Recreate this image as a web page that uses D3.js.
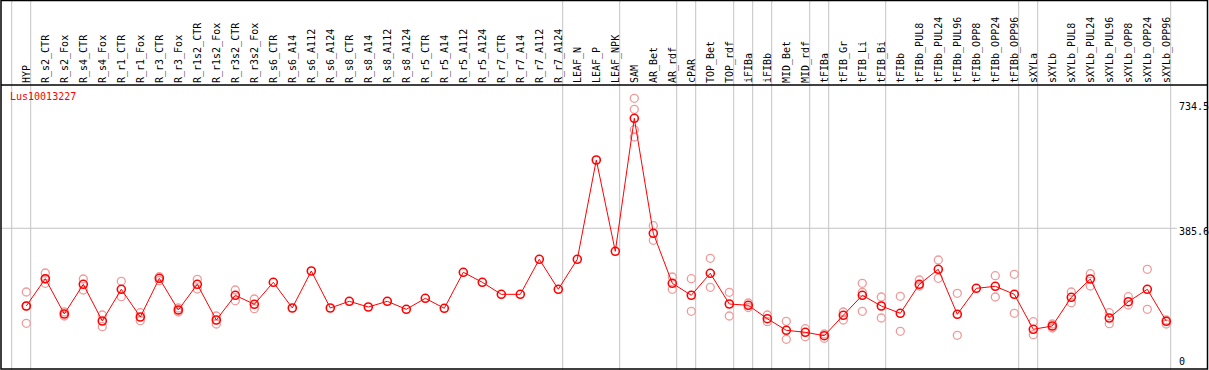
<!DOCTYPE html>
<html>
<head>
<meta charset="utf-8">
<script src="https://cdn.jsdelivr.net/npm/d3@7"></script>
<style>
  body { margin: 0; background: #fff; }
  text { font-family: "DejaVu Sans Mono", monospace; font-size: 10px; }
</style>
</head>
<body>
<div id="chart"></div>
<script>
// sample names along the top
var samples = ["HYP", "R_s2_CTR", "R_s2_Fox", "R_s4_CTR", "R_s4_Fox", "R_r1_CTR", "R_r1_Fox",
    "R_r3_CTR", "R_r3_Fox", "R_r1s2_CTR", "R_r1s2_Fox", "R_r3s2_CTR", "R_r3s2_Fox",
    "R_s6_CTR", "R_s6_A14", "R_s6_A112", "R_s6_A124", "R_s8_CTR", "R_s8_A14", "R_s8_A112", "R_s8_A124",
    "R_r5_CTR", "R_r5_A14", "R_r5_A112", "R_r5_A124", "R_r7_CTR", "R_r7_A14", "R_r7_A112", "R_r7_A124",
    "LEAF_N", "LEAF_P", "LEAF_NPK", "SAM", "AR_Bet", "AR_rdf", "cPAR", "TOP_Bet", "TOP_rdf",
    "iFIBa", "iFIBb", "MID_Bet", "MID_rdf", "tFIBa", "tFIB_Gr", "tFIB_Li", "tFIB_Bi", "tFIBb",
    "tFIBb_PUL8", "tFIBb_PUL24", "tFIBb_PUL96", "tFIBb_OPP8", "tFIBb_OPP24", "tFIBb_OPP96",
    "sXYLa", "sXYLb", "sXYLb_PUL8", "sXYLb_PUL24", "sXYLb_PUL96", "sXYLb_OPP8", "sXYLb_OPP24", "sXYLb_OPP96"];

// mean expression per sample
var means = [170.3, 245.9, 148.2, 230.4, 128.8, 216.6, 139.9, 247.0, 159.2, 230.4, 131.6, 200.0, 175.0,
    236.0, 164.8, 267.3, 164.8, 183.3, 167.6, 183.3, 161.2, 191.6, 164.0, 263.7, 236.0, 202.7, 202.7, 299.7, 216.6,
    299.7, 574.7, 321.8, 690.2, 371.7, 233.2, 200.0, 260.9, 175.9,
    172.3, 135.2, 103.0, 97.5, 88.1, 144.6, 200.0, 170.3, 150.1,
    230.4, 272.0, 147.3, 219.3, 224.9, 202.7,
    105.8, 114.9, 194.4, 245.1, 137.1, 182.2, 216.6, 128.0];

// single replicates (empty where only the mean shows)
var replicates = [
    [209.1, 170.3, 122.4], [261.7, 245.1, 233.2], [153.7, 142.6], [245.1, 214.6], [145.4, 113.0],
    [238.7, 196.1], [151.8, 129.6], [251.5, 240.4], [164.8, 153.7], [244.3, 217.4], [142.6, 120.5],
    [214.6, 185.0], [189.7, 162.8],
    [], [], [], [], [], [], [], [], [], [], [], [], [], [], [], [],
    [], [], [],
    [745.5, 715.1, 658.6, 638.4], [392.7, 352.3], [250.6, 216.6], [245.9, 155.6], [302.4, 222.1], [208.3, 142.6],
    [178.6, 166.2], [145.4, 126.8], [128.0, 78.1], [107.5, 85.3], [92.8, 80.9], [153.7, 131.6],
    [233.2, 208.3, 155.6], [195.2, 137.1], [197.2, 100.3],
    [242.3, 225.7], [297.7, 247.0], [205.5, 89.2], [], [254.2, 195.2], [258.1, 150.1],
    [126.8, 90.8], [120.5, 109.4], [209.1, 179.5], [259.8, 225.7], [151.8, 121.3], [196.1, 173.1],
    [272.0, 161.2], [131.6, 120.5]];

// samples that start a new group (grey separators)
var groupStarts = ["HYP", "R_s2_CTR", "LEAF_N", "SAM", "cPAR", "TOP_Bet", "iFIBa", "iFIBb", "MID_Bet",
    "tFIBa", "tFIB_Gr", "tFIBb", "sXYLa", "sXYLb"];

var yTicks = [0, 385.6, 734.5];
var geneName = "Lus10013227";

var W = 1209, H = 370;
var headerH = 85;

var svg = d3.select("#chart").append("svg")
    .attr("width", W)
    .attr("height", H);

var x = d3.scalePoint()
    .domain(samples)
    .range([26.3, 1166.3]);

var y = d3.scaleLinear()
    .domain([0, 734.5])
    .range([367.5, 102.3]);

var sepOffset = 14.6;
var step = x.step();

// vertical separators
var sepX = groupStarts.map(function(s) { return x(s) - sepOffset; });
sepX.push(x(samples[samples.length - 1]) + step - sepOffset);
svg.selectAll(".sep")
    .data(sepX)
    .join("line")
    .attr("x1", function(d) { return d; })
    .attr("x2", function(d) { return d; })
    .attr("y1", 0)
    .attr("y2", H)
    .attr("stroke", "#c4c4c4")
    .attr("stroke-width", 1);

// horizontal mid grid line
svg.append("line")
    .attr("x1", 1).attr("x2", 1177)
    .attr("y1", y(yTicks[1])).attr("y2", y(yTicks[1]))
    .attr("stroke", "#c4c4c4");

// frame
svg.append("rect")
    .attr("x", 1).attr("y", 0.5)
    .attr("width", 1206.5).attr("height", 368.5)
    .attr("fill", "none").attr("stroke", "#000").attr("stroke-width", 1.5);
svg.append("line")
    .attr("x1", 1).attr("x2", 1208)
    .attr("y1", headerH).attr("y2", headerH)
    .attr("stroke", "#000").attr("stroke-width", 1.5);

// sample labels
svg.selectAll(".lbl")
    .data(samples)
    .join("text")
    .attr("transform", function(d) { return "translate(" + (x(d) + 3.8) + "," + (headerH - 2) + ") rotate(-90)"; })
    .attr("fill", "#000")
    .text(function(d) { return d; });

// right axis labels
svg.selectAll(".ytick")
    .data(yTicks)
    .join("text")
    .attr("x", 1179)
    .attr("y", function(d) { return d === 0 ? y(d) - 2.5 : y(d); })
    .attr("dominant-baseline", function(d) { return d === 0 ? "auto" : "hanging"; })
    .attr("fill", "#000")
    .text(function(d) { return d; });

// gene name
svg.append("text")
    .attr("x", 10)
    .attr("y", 100)
    .attr("fill", "red")
    .text(geneName);

// replicate circles
var reps = [];
samples.forEach(function(s, i) {
    replicates[i].forEach(function(v) { reps.push([s, v]); });
});
svg.selectAll(".rep")
    .data(reps)
    .join("circle")
    .attr("cx", function(d) { return x(d[0]); })
    .attr("cy", function(d) { return y(d[1]); })
    .attr("r", 4)
    .attr("fill", "none")
    .attr("stroke", "#f09a9a")
    .attr("stroke-width", 1.3);

// mean line
svg.append("path")
    .datum(means)
    .attr("fill", "none")
    .attr("stroke", "red")
    .attr("stroke-width", 1)
    .attr("d", d3.line()
        .x(function(d, i) { return x(samples[i]); })
        .y(function(d) { return y(d); }));

// mean markers
svg.selectAll(".mean")
    .data(means)
    .join("circle")
    .attr("cx", function(d, i) { return x(samples[i]); })
    .attr("cy", function(d) { return y(d); })
    .attr("r", 4)
    .attr("fill", "none")
    .attr("stroke", "red")
    .attr("stroke-width", 1.6);
</script>
</body>
</html>
